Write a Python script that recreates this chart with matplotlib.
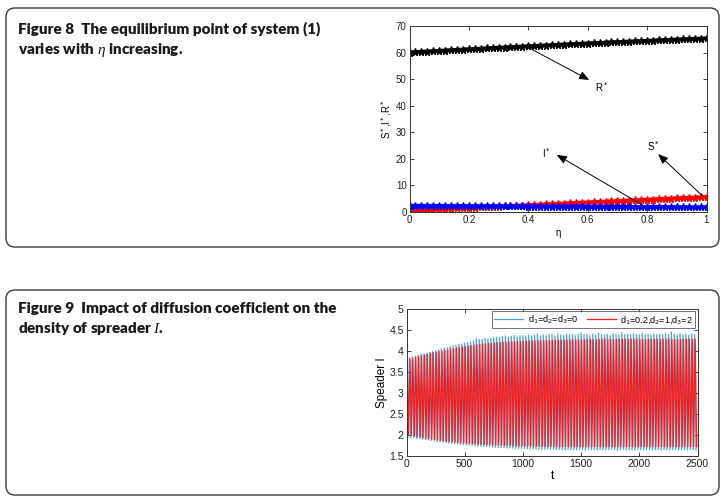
import numpy as np
import matplotlib
matplotlib.use("Agg")
from matplotlib import pyplot as plt
from matplotlib.patches import FancyBboxPatch
from matplotlib.ticker import FuncFormatter

# Figure 8: equilibrium point vs eta
eta = [0.00, 0.02, 0.04, 0.06, 0.08, 0.10, 0.12, 0.14, 0.16, 0.18,
       0.20, 0.22, 0.24, 0.26, 0.28, 0.30, 0.32, 0.34, 0.36, 0.38,
       0.40, 0.42, 0.44, 0.46, 0.48, 0.50, 0.52, 0.54, 0.56, 0.58,
       0.60, 0.62, 0.64, 0.66, 0.68, 0.70, 0.72, 0.74, 0.76, 0.78,
       0.80, 0.82, 0.84, 0.86, 0.88, 0.90, 0.92, 0.94, 0.96, 0.98, 1.00]
r_star = [60.00, 60.12, 60.25, 60.37, 60.49, 60.61, 60.73, 60.85, 60.97, 61.09,
          61.20, 61.32, 61.44, 61.55, 61.67, 61.78, 61.89, 62.00, 62.12, 62.23,
          62.34, 62.45, 62.55, 62.66, 62.77, 62.88, 62.98, 63.09, 63.19, 63.29,
          63.40, 63.50, 63.60, 63.70, 63.80, 63.90, 64.00, 64.09, 64.19, 64.29,
          64.38, 64.48, 64.57, 64.67, 64.76, 64.85, 64.94, 65.03, 65.12, 65.21, 65.30]
s_star = [0.50, 0.60, 0.70, 0.81, 0.91, 1.01, 1.11, 1.21, 1.32, 1.42,
          1.52, 1.62, 1.72, 1.83, 1.93, 2.03, 2.13, 2.23, 2.34, 2.44,
          2.54, 2.64, 2.74, 2.85, 2.95, 3.05, 3.15, 3.25, 3.36, 3.46,
          3.56, 3.66, 3.76, 3.87, 3.97, 4.07, 4.17, 4.27, 4.38, 4.48,
          4.58, 4.68, 4.78, 4.89, 4.99, 5.09, 5.19, 5.29, 5.40, 5.50, 5.60]
i_star = [2.30, 2.29, 2.28, 2.26, 2.25, 2.24, 2.23, 2.22, 2.20, 2.19,
          2.18, 2.17, 2.16, 2.14, 2.13, 2.12, 2.11, 2.10, 2.08, 2.07,
          2.06, 2.05, 2.04, 2.02, 2.01, 2.00, 1.99, 1.98, 1.96, 1.95,
          1.94, 1.93, 1.92, 1.90, 1.89, 1.88, 1.87, 1.86, 1.84, 1.83,
          1.82, 1.81, 1.80, 1.78, 1.77, 1.76, 1.75, 1.74, 1.72, 1.71, 1.70]

# Figure 9: spreader I oscillation, peak / trough of each cycle
t_peak = [0, 25, 50, 75, 100, 125, 150, 175, 200, 225,
          250, 275, 300, 325, 350, 375, 400, 425, 450, 475,
          500, 525, 550, 575, 600, 625, 650, 675, 700, 725,
          750, 775, 800, 825, 850, 875, 900, 925, 950, 975,
          1000, 1025, 1050, 1075, 1100, 1125, 1150, 1175, 1200, 1225,
          1250, 1275, 1300, 1325, 1350, 1375, 1400, 1425, 1450, 1475,
          1500, 1525, 1550, 1575, 1600, 1625, 1650, 1675, 1700, 1725,
          1750, 1775, 1800, 1825, 1850, 1875, 1900, 1925, 1950, 1975,
          2000, 2025, 2050, 2075, 2100, 2125, 2150, 2175, 2200, 2225,
          2250, 2275, 2300, 2325, 2350, 2375, 2400, 2425, 2450, 2475]
blue_peak = [3.83, 3.84, 3.86, 3.87, 3.90, 3.92, 3.93, 3.95, 3.97, 3.99,
             4.02, 4.03, 4.05, 4.07, 4.08, 4.10, 4.13, 4.14, 4.16, 4.17,
             4.19, 4.20, 4.22, 4.24, 4.29, 4.27, 4.28, 4.30, 4.29, 4.31,
             4.31, 4.33, 4.32, 4.34, 4.36, 4.33, 4.35, 4.37, 4.34, 4.36,
             4.37, 4.35, 4.38, 4.36, 4.37, 4.41, 4.36, 4.38, 4.37, 4.39,
             4.38, 4.36, 4.41, 4.38, 4.37, 4.40, 4.38, 4.39, 4.37, 4.40,
             4.43, 4.38, 4.39, 4.37, 4.40, 4.38, 4.42, 4.39, 4.38, 4.40,
             4.37, 4.41, 4.39, 4.38, 4.44, 4.39, 4.40, 4.38, 4.41, 4.39,
             4.38, 4.42, 4.39, 4.40, 4.38, 4.41, 4.39, 4.40, 4.38, 4.42,
             4.39, 4.45, 4.40, 4.38, 4.41, 4.39, 4.40, 4.38, 4.41, 4.39]
blue_trough = [1.95, 1.94, 1.93, 1.92, 1.91, 1.90, 1.89, 1.88, 1.87, 1.86,
               1.85, 1.84, 1.83, 1.82, 1.81, 1.80, 1.79, 1.79, 1.78, 1.77,
               1.76, 1.76, 1.75, 1.74, 1.74, 1.73, 1.73, 1.72, 1.72, 1.71,
               1.71, 1.70, 1.70, 1.70, 1.69, 1.69, 1.69, 1.68, 1.68, 1.68,
               1.68, 1.67, 1.67, 1.67, 1.67, 1.66, 1.66, 1.66, 1.66, 1.66,
               1.66, 1.65, 1.66, 1.65, 1.64, 1.66, 1.65, 1.65, 1.64, 1.66,
               1.65, 1.64, 1.66, 1.65, 1.65, 1.64, 1.66, 1.65, 1.64, 1.65,
               1.66, 1.65, 1.64, 1.65, 1.66, 1.64, 1.65, 1.65, 1.64, 1.66,
               1.65, 1.64, 1.65, 1.66, 1.64, 1.65, 1.65, 1.64, 1.66, 1.65,
               1.64, 1.65, 1.66, 1.64, 1.65, 1.65, 1.64, 1.66, 1.65, 1.64]
red_peak = [3.80, 3.81, 3.83, 3.85, 3.87, 3.89, 3.90, 3.92, 3.94, 3.96,
            3.97, 3.99, 4.00, 4.02, 4.03, 4.05, 4.06, 4.08, 4.09, 4.10,
            4.11, 4.12, 4.13, 4.14, 4.15, 4.16, 4.17, 4.17, 4.18, 4.19,
            4.19, 4.20, 4.20, 4.21, 4.21, 4.22, 4.22, 4.22, 4.23, 4.23,
            4.23, 4.24, 4.24, 4.24, 4.24, 4.25, 4.25, 4.25, 4.25, 4.25,
            4.26, 4.26, 4.26, 4.26, 4.26, 4.26, 4.27, 4.27, 4.27, 4.27,
            4.27, 4.27, 4.27, 4.27, 4.27, 4.27, 4.28, 4.28, 4.28, 4.28,
            4.28, 4.28, 4.28, 4.28, 4.28, 4.28, 4.28, 4.28, 4.28, 4.28,
            4.28, 4.28, 4.28, 4.28, 4.28, 4.28, 4.28, 4.28, 4.28, 4.28,
            4.28, 4.28, 4.28, 4.28, 4.28, 4.28, 4.28, 4.28, 4.28, 4.28]
red_trough = [2.00, 1.99, 1.97, 1.96, 1.95, 1.93, 1.92, 1.91, 1.90, 1.89,
              1.88, 1.87, 1.86, 1.85, 1.84, 1.84, 1.83, 1.82, 1.81, 1.81,
              1.80, 1.80, 1.79, 1.79, 1.78, 1.78, 1.77, 1.77, 1.77, 1.76,
              1.76, 1.76, 1.75, 1.75, 1.75, 1.75, 1.74, 1.74, 1.74, 1.74,
              1.73, 1.73, 1.73, 1.73, 1.73, 1.73, 1.73, 1.73, 1.73, 1.73,
              1.72, 1.72, 1.72, 1.72, 1.72, 1.72, 1.72, 1.72, 1.72, 1.72,
              1.72, 1.72, 1.72, 1.72, 1.72, 1.72, 1.72, 1.72, 1.72, 1.72,
              1.72, 1.72, 1.72, 1.72, 1.72, 1.72, 1.72, 1.72, 1.72, 1.72,
              1.72, 1.72, 1.72, 1.72, 1.72, 1.72, 1.72, 1.72, 1.72, 1.72,
              1.72, 1.72, 1.72, 1.72, 1.72, 1.72, 1.72, 1.72, 1.72, 1.72]
half_period = 12.5
red_lag = 5

CAPTION_8 = "Figure 8  The equilibrium point of system (1)\nvaries with $\\eta$ increasing."
CAPTION_9 = "Figure 9  Impact of diffusion coefficient on the\ndensity of spreader $I$."

####################################################################

plt.rcParams["font.family"] = ["Liberation Sans", "DejaVu Sans"]
plt.rcParams["mathtext.fontset"] = "custom"
plt.rcParams["mathtext.it"] = "Liberation Serif:italic"

fig = plt.figure(figsize=(7.25, 4.98), dpi=100)


def zigzag(times, peaks, troughs, shift=0.0):
    """Interleave peak and trough samples of each cycle into one line."""
    tt, yy = [], []
    for t0, hi, lo in zip(times, peaks, troughs):
        tt += [t0 + shift, t0 + shift + half_period]
        yy += [hi, lo]
    tt = np.array(tt)
    yy = np.array(yy)
    keep = tt <= 2500
    return tt[keep], yy[keep]


def panel_box(y0, y1):
    box = FancyBboxPatch((0.06, y0), 7.13, y1 - y0,
                         boxstyle="round,pad=0,rounding_size=0.09",
                         transform=fig.dpi_scale_trans, facecolor="none",
                         edgecolor="#3a3a3a", linewidth=1.0)
    fig.patches.append(box)


def matlab_axes(ax, size):
    ax.tick_params(direction="in", top=True, right=True, length=3,
                   width=0.6, labelsize=size, pad=2, colors="#222222")
    for sp in ax.spines.values():
        sp.set_linewidth(0.7)
        sp.set_color("#333333")


# frames and captions
panel_box(4.98 - 2.47, 4.98 - 0.08)
panel_box(4.98 - 4.95, 4.98 - 2.90)
cap_font = dict(family=["Lato", "DejaVu Sans"], fontsize=11, fontweight="heavy",
                color="#1a1a1a", va="top", ha="left", linespacing=1.4)
fig.text(18 / 725, 1 - 21 / 498, CAPTION_8, **cap_font)
fig.text(18 / 725, 1 - 302 / 498, CAPTION_9, **cap_font)

# Figure 8 plot
ax1 = fig.add_axes([409.5 / 725, 1 - 212 / 498, 297 / 725, 186 / 498])
ax1.plot(eta, r_star, "k*-", markersize=5.5, linewidth=3)
ax1.plot(eta, s_star, "r*-", markersize=5.5, linewidth=3)
ax1.plot(eta, i_star, "b*-", markersize=5.5, linewidth=3)
ax1.set_xlim(0, 1)
ax1.set_ylim(0, 70)
ax1.set_xticks([0, 0.2, 0.4, 0.6, 0.8, 1])
ax1.set_yticks(range(0, 71, 10))
ax1.xaxis.set_major_formatter(FuncFormatter(lambda v, p: f"{v:g}"))
ax1.set_xlabel("η", fontsize=7, labelpad=2)
ax1.set_ylabel("S$^*$,I$^*$,R$^*$", fontsize=7, labelpad=1)
matlab_axes(ax1, 7)

arrow = dict(arrowstyle="-|>,head_length=0.6,head_width=0.25", color="black",
             linewidth=0.7, shrinkA=0, shrinkB=0)
ax1.annotate("", xy=(0.605, 49.7), xytext=(0.407, 61.5), arrowprops=arrow)
ax1.annotate("", xy=(0.496, 21.5), xytext=(0.787, 2.4), arrowprops=arrow)
ax1.annotate("", xy=(0.837, 21.8), xytext=(0.989, 5.8), arrowprops=arrow)
ax1.text(0.625, 47.0, "R$^*$", fontsize=7, ha="left", va="center")
ax1.text(0.445, 22.0, "I$^*$", fontsize=7, ha="left", va="center")
ax1.text(0.80, 24.5, "S$^*$", fontsize=7, ha="left", va="center")

# Figure 9 plot
ax2 = fig.add_axes([406.5 / 725, 1 - 456 / 498, 291 / 725, 147 / 498])
tb, yb = zigzag(t_peak, blue_peak, blue_trough)
tr, yr = zigzag(t_peak, red_peak, red_trough, shift=red_lag)
ax2.plot(tb, yb, color="#4da3d9", linewidth=0.9, label="d$_1$=d$_2$=d$_3$=0")
ax2.plot(tr, yr, color="#ff1a1a", linewidth=0.9, label="d$_1$=0.2,d$_2$=1,d$_3$=2")
ax2.set_xlim(0, 2500)
ax2.set_ylim(1.5, 5)
ax2.set_xticks(range(0, 2501, 500))
ax2.set_yticks([1.5, 2, 2.5, 3, 3.5, 4, 4.5, 5])
ax2.yaxis.set_major_formatter(FuncFormatter(lambda v, p: f"{v:g}"))
ax2.set_xlabel("t", fontsize=8.5, labelpad=1)
ax2.set_ylabel("Speader I", fontsize=8.5, labelpad=1)
matlab_axes(ax2, 7.5)
leg = ax2.legend(loc="upper right", ncol=2, fontsize=6.5, frameon=True,
                 fancybox=False, edgecolor="#333333", borderpad=0.25,
                 handlelength=3.2, columnspacing=1.0, handletextpad=0.5,
                 borderaxespad=0.25)
leg.get_frame().set_linewidth(0.6)

fig.savefig("out.png", dpi=100)
